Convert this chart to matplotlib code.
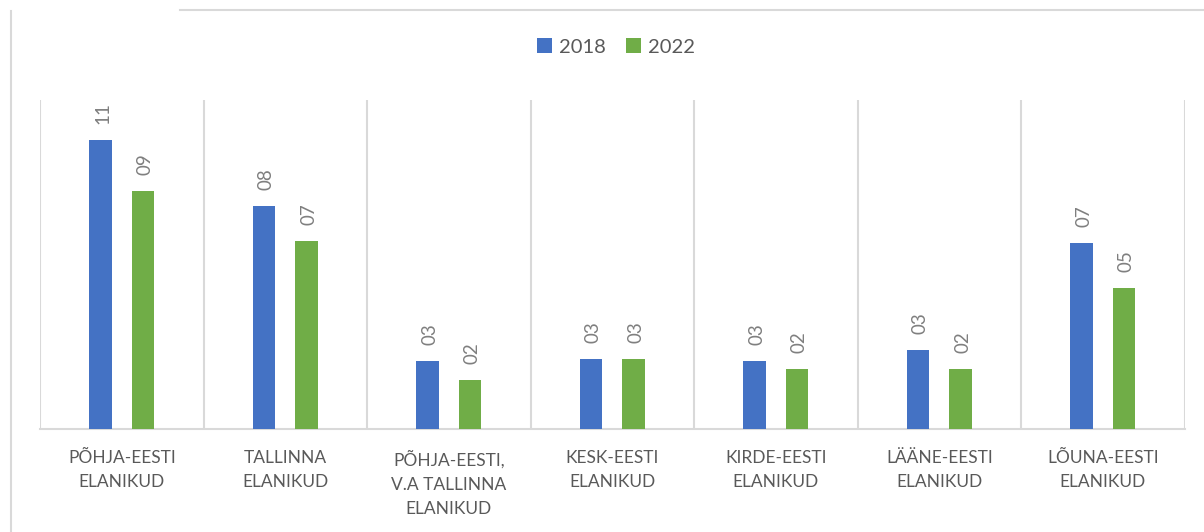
import matplotlib
matplotlib.use("Agg")
import matplotlib.pyplot as plt
from matplotlib.lines import Line2D
import numpy as np

categories = ["PÕHJA-EESTI\nELANIKUD", "TALLINNA\nELANIKUD", "PÕHJA-EESTI,\nV.A TALLINNA\nELANIKUD",
              "KESK-EESTI\nELANIKUD", "KIRDE-EESTI\nELANIKUD", "LÄÄNE-EESTI\nELANIKUD", "LÕUNA-EESTI\nELANIKUD"]
series_names = ["2018", "2022"]
values_2018 = [10.9, 8.42, 2.55, 2.64, 2.55, 2.96, 7.0]
values_2022 = [8.98, 7.09, 1.83, 2.64, 2.25, 2.25, 5.32]

colors = ["#4472C4", "#70AD47"]
grid_c = "#D9D9D9"
text_c = "#595959"
label_c = "#7F7F7F"

plt.rcParams['font.family'] = ['Lato', 'DejaVu Sans']

W, H = 1204, 532
fig = plt.figure(figsize=(W / 100, H / 100), dpi=100)
ax = fig.add_axes([40 / W, 1 - 429 / H, (1184.5 - 40) / W, (429 - 100) / H])

x = np.arange(len(categories))
bw = 0.137
off = 0.13
for vals, c, name, dx in [(values_2018, colors[0], series_names[0], -off),
                          (values_2022, colors[1], series_names[1], off)]:
    bars = ax.bar(x + dx, vals, width=bw, color=c, label=name, zorder=3)
    for b, v in zip(bars, vals):
        ax.annotate(f"{v:02.0f}", (b.get_x() + b.get_width() / 2, b.get_height()),
                    xytext=(1.5, 11.5), textcoords="offset points", rotation=90,
                    ha="center", va="bottom", fontsize=13.5, color=label_c)

ax.set_xlim(-0.5, len(categories) - 0.5)
ax.set_ylim(0, 12.4)
for b in np.arange(-0.5, len(categories), 1.0):
    ax.axvline(b, color=grid_c, lw=1.5, zorder=1)
for s in ["top", "left", "right"]:
    ax.spines[s].set_visible(False)
ax.spines["bottom"].set_color(grid_c)
ax.spines["bottom"].set_linewidth(1.5)
ax.set_yticks([])
ax.set_xticks(x)
ax.set_xticklabels(categories, fontsize=12.5, color=text_c, linespacing=1.65)
ax.tick_params(axis="x", length=0, pad=15)

leg = fig.legend(loc="center", bbox_to_anchor=(616 / W, 1 - 47 / H), ncol=2, frameon=False,
                 fontsize=14.5, handlelength=0.75, handleheight=0.75, handletextpad=0.35,
                 columnspacing=1.0, labelcolor=text_c)

fig.add_artist(Line2D([180 / W, 1], [1 - 10 / H, 1 - 10 / H], color=grid_c, lw=1.5,
                      transform=fig.transFigure))
fig.add_artist(Line2D([11 / W, 11 / W], [1 - 11 / H, 0], color=grid_c, lw=1.5,
                      transform=fig.transFigure))

fig.savefig("out.png", dpi=100)
